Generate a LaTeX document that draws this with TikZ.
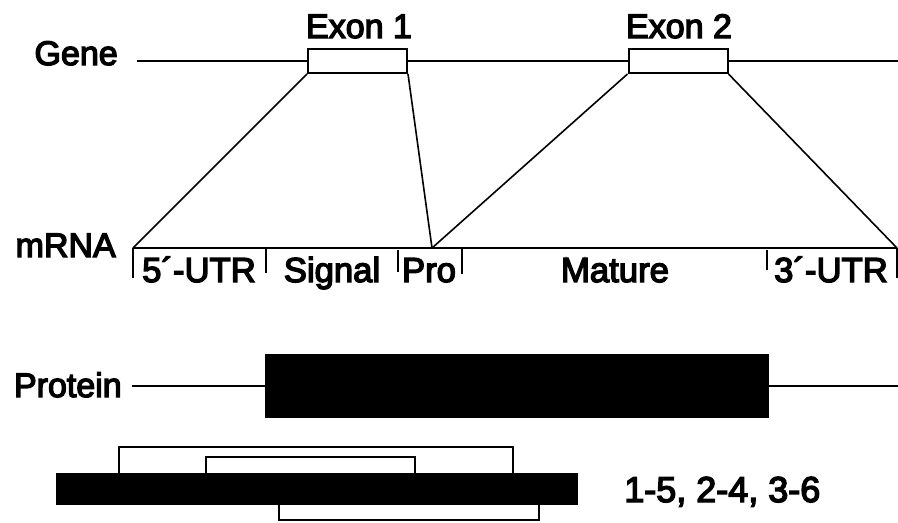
\documentclass[tikz,border=0pt]{standalone}
\usepackage{fontspec}
\setmainfont{Liberation Sans}
\newfontfamily\heavysans{Liberation Sans}[FakeBold=4]
\begin{document}
\begin{tikzpicture}[x=0.75pt,y=-0.75pt,
  lbl/.style={inner sep=0pt,font=\heavysans\fontsize{25.5}{30}\selectfont},
  seglbl/.style={inner sep=0pt,font=\heavysans\fontsize{26}{30}\selectfont},
  rule/.style={line width=1.6pt},
  link/.style={line width=1.2pt},
  tick/.style={line width=1.2pt},
  exonbox/.style={draw,line width=1.5pt,fill=white,inner sep=0pt,
    minimum width=74.25pt,minimum height=18pt},
  solidbox/.style={draw,fill=black,inner sep=0pt}]
\useasboundingbox (0,0) rectangle (898,522);

% ---- gene ----
\node[lbl,anchor=base east] (geneL) at (118,65) {Gene};
\coordinate (g0) at (137,61);
\coordinate (g1) at (898,61);
\node[exonbox] (ex1) at (357.5,61) {};
\node[exonbox] (ex2) at (678,61) {};
\node[lbl,anchor=base] (ex1L) at (359,38) {Exon 1};
\node[lbl,anchor=base] (ex2L) at (679,38) {Exon 2};
\draw[rule] (g0) -- (ex1.west);
\draw[rule] (ex1.east) -- (ex2.west);
\draw[rule] (ex2.east) -- (g1);

% ---- mRNA ----
\node[lbl,anchor=base east] (mrnaL) at (116,257) {mRNA};
\coordinate (m0) at (133,248);
\coordinate (m1) at (266,248);
\coordinate (m2) at (398,248);
\coordinate (pro) at (432,248);
\coordinate (m3) at (462,248);
\coordinate (m4) at (767,248);
\coordinate (m5) at (897,248);
\draw[rule] (m0) -- (m5);
\draw[tick] (m0) -- ++(0,30);
\draw[tick] (m1) -- ++(0,25);
\draw[tick] (m2) ++(0,2) -- ++(0,22);
\draw[tick] (m3) -- ++(0,26);
\draw[tick] (m4) ++(0,2) -- ++(0,20);
\draw[tick] (m5) -- ++(0,30);
\node[seglbl,anchor=base] (utr5) at (199,282) {5´-UTR};
\node[seglbl,anchor=base] (sig) at (332,282) {Signal};
\node[seglbl,anchor=base] (prol) at (429,282) {Pro};
\node[seglbl,anchor=base] (mat) at (615,282) {Mature};
\node[seglbl,anchor=base] (utr3) at (831,282) {3´-UTR};

% exon-to-mRNA mapping lines
\draw[link] (ex1.south west) -- (m0);
\draw[link] (ex1.south east) -- (pro);
\draw[link] (ex2.south west) -- (pro);
\draw[link] (ex2.south east) -- (m5);

% ---- protein ----
\node[lbl,anchor=base east] (protL) at (122,397) {Protein};
\coordinate (p0) at (132,386);
\coordinate (p1) at (898,386);
\node[solidbox,minimum width=377.25pt,minimum height=47.25pt] (prot) at (516.5,385.5) {};
\draw[rule] (p0) -- (p0 -| prot.west);
\draw[rule] (p1 -| prot.east) -- (p1);

% ---- disulfide pairing ----
\node[solidbox,minimum width=390.75pt,minimum height=23.25pt] (bar) at (316.5,488.5) {};
\coordinate (c1) at (119,473);
\coordinate (c5) at (513,473);
\coordinate (c1t) at (119,447);
\coordinate (c2) at (206,473);
\coordinate (c4) at (415,473);
\coordinate (c2t) at (206,457);
\coordinate (c3) at (279,504);
\coordinate (c6) at (539,504);
\coordinate (c3b) at (279,520);
\draw[rule] (c1) -- (c1t) -| (c5);
\draw[rule] (c2) -- (c2t) -| (c4);
\draw[rule] (c3) -- (c3b) -| (c6);
\node[lbl,anchor=base west,font=\heavysans\fontsize{27}{30}\selectfont] (pairs) at (624,502) {1-5, 2-4, 3-6};
\end{tikzpicture}
\end{document}
